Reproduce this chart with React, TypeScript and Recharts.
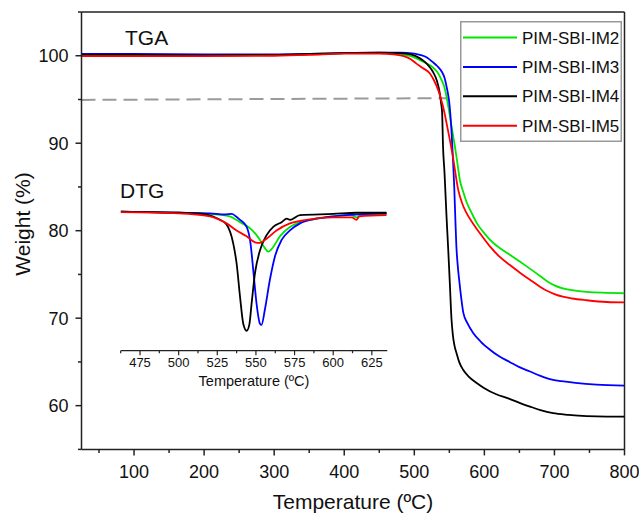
import { LineChart, Line, XAxis, YAxis, ReferenceLine, Legend } from 'recharts';

const FONT = "Arial, 'Liberation Sans', Helvetica, sans-serif";
const AXIS = '#222';

const seriesNames = ['PIM-SBI-IM2', 'PIM-SBI-IM3', 'PIM-SBI-IM4', 'PIM-SBI-IM5'];
const seriesColors = ['#00e600', '#0000ff', '#000000', '#ff0000'];

// TGA: weight (%) vs temperature (ºC)
const im2Temp = [25, 100, 200, 300, 350, 400, 450, 480, 495, 508, 518, 526, 533, 539, 543, 546, 549, 551, 554, 558, 561, 565, 570, 575, 582, 589, 600, 612, 625, 641, 660, 679, 690, 700, 712, 725, 746, 775, 800];
const im2Weight = [100.1, 100.1, 100.05, 100.1, 100.2, 100.3, 100.3, 100.2, 99.95, 99.5, 99.1, 98.7, 98.1, 97.2, 96.4, 95.3, 94.0, 93.0, 91.5, 89.6, 88.0, 85.8, 84.4, 83.2, 82.0, 80.9, 79.7, 78.65, 77.85, 77.0, 75.95, 74.85, 74.2, 73.75, 73.4, 73.2, 73.0, 72.9, 72.85];

const im3Temp = [25, 100, 200, 300, 350, 400, 450, 480, 500, 508, 518, 526, 533, 539, 543, 546, 548, 550, 553, 555, 557, 558.5, 560, 562, 564, 567, 570, 576, 584, 595, 608, 620, 636, 650, 665, 680, 695, 710, 730, 760, 800];
const im3Weight = [100.2, 100.2, 100.15, 100.15, 100.2, 100.3, 100.35, 100.35, 100.25, 100.1, 99.8, 99.3, 98.8, 98.2, 97.5, 96.5, 95.7, 94.6, 91.5, 88.5, 85.0, 81.5, 78.3, 76.0, 74.4, 72.3, 70.6, 69.4, 68.3, 67.3, 66.4, 65.7, 65.0, 64.4, 63.9, 63.4, 63.0, 62.8, 62.6, 62.4, 62.3];

const im4Temp = [25, 100, 200, 300, 350, 400, 450, 480, 495, 508, 515, 522, 527, 532, 536.4, 538, 539.7, 541, 543, 546, 548.5, 550.7, 553, 555, 557.5, 560.3, 564, 569.7, 578, 589, 600, 617, 635, 651, 665, 680, 698, 720, 746, 775, 800];
const im4Weight = [100.1, 100.1, 100.05, 100.1, 100.2, 100.3, 100.35, 100.3, 100.15, 99.7, 99.3, 98.7, 98.1, 97.2, 95.7, 94.7, 93.5, 89.6, 86.8, 81.6, 77.7, 74.0, 70.0, 68.1, 66.8, 66.0, 65.0, 64.1, 63.3, 62.6, 62.0, 61.3, 60.8, 60.3, 59.9, 59.5, 59.15, 58.95, 58.8, 58.75, 58.75];

const im5Temp = [25, 100, 200, 300, 350, 400, 450, 470, 485, 495, 503, 512, 522, 528, 534, 541, 548, 555, 562.6, 568, 574.6, 584, 593.6, 607, 622, 636, 650.7, 665, 679.3, 690, 700, 712, 725, 746, 775, 800];
const im5Weight = [99.95, 99.95, 99.95, 100.0, 100.1, 100.25, 100.25, 100.15, 99.95, 99.6, 99.1, 98.6, 98.0, 97.2, 96.1, 94.2, 91.5, 88.5, 84.7, 83.2, 82.0, 80.8, 79.7, 78.3, 77.0, 76.1, 75.2, 74.4, 73.6, 73.1, 72.75, 72.45, 72.25, 72.05, 71.85, 71.8];

// DTG inset (arbitrary units, baseline 0)
const im2DtgTemp = [462.5, 500, 520, 533, 539.7, 546.1, 550.4, 552.6, 555.8, 558, 561.2, 565.5, 572, 578.5, 589.3, 600, 612, 615, 618, 634.5];
const im2Dtg = [0.01, 0.0, -0.01, -0.03, -0.08, -0.13, -0.19, -0.23, -0.3, -0.33, -0.29, -0.2, -0.12, -0.08, -0.05, -0.03, -0.02, -0.04, -0.02, -0.01];

const im3DtgTemp = [462.5, 480, 500, 520.3, 530, 534.3, 537, 539.7, 544, 546.5, 548.3, 550.4, 552.6, 553.6, 555.8, 559, 562.3, 566.6, 572, 578.5, 589.3, 600, 634.5];
const im3Dtg = [0.01, 0.005, 0.0, -0.006, -0.015, -0.01, -0.03, -0.06, -0.12, -0.26, -0.49, -0.77, -0.94, -0.95, -0.82, -0.57, -0.37, -0.23, -0.15, -0.09, -0.05, -0.03, -0.006];

const im4DtgTemp = [462.5, 480, 500, 515, 522, 526.7, 531, 535.3, 537.5, 539.7, 541.8, 544, 545.7, 547.2, 549.4, 552.6, 556.9, 561.2, 566.6, 570, 572, 578.5, 600, 615, 634.5];
const im4Dtg = [0.01, 0.005, 0.0, -0.01, -0.03, -0.06, -0.1, -0.26, -0.43, -0.71, -0.94, -1.0, -0.95, -0.77, -0.51, -0.32, -0.19, -0.12, -0.08, -0.05, -0.06, -0.02, -0.01, 0.0, 0.0];

const im5DtgTemp = [462.5, 500, 520.3, 531, 537.5, 544, 549.4, 552.6, 556.9, 563.3, 572, 582.7, 600, 612, 615, 617, 634.5];
const im5Dtg = [0.005, -0.005, -0.03, -0.09, -0.15, -0.2, -0.25, -0.255, -0.22, -0.15, -0.09, -0.06, -0.04, -0.04, -0.06, -0.03, -0.02];

const mainXTicks = [50, 100, 150, 200, 250, 300, 350, 400, 450, 500, 550, 600, 650, 700, 750, 800];
const mainYTicks = [55, 60, 65, 70, 75, 80, 85, 90, 95, 100, 105];
const insetXTicks = [462.5, 475, 487.5, 500, 512.5, 525, 537.5, 550, 562.5, 575, 587.5, 600, 612.5, 625];

// 5% weight-loss guide line
const onsetStart = { x: 25, y: 94.95 };
const onsetEnd = { x: 547, y: 95.15 };

const zip = (t: number[], v: number[]) => t.map((x, i) => ({ t: x, v: v[i] }));

const tgaSeries = [zip(im2Temp, im2Weight), zip(im3Temp, im3Weight), zip(im4Temp, im4Weight), zip(im5Temp, im5Weight)];
const dtgSeries = [zip(im2DtgTemp, im2Dtg), zip(im3DtgTemp, im3Dtg), zip(im4DtgTemp, im4Dtg), zip(im5DtgTemp, im5Dtg)];

const MainXTick = ({ x, y, payload }: any) => {
  const major = payload.value % 100 === 0;
  return (
    <g>
      <line x1={x} x2={x} y1={y} y2={y + (major ? 6 : 3.5)} stroke={AXIS} strokeWidth={1.5} />
      {major && (
        <text x={x} y={y + 29} textAnchor="middle" fontSize={18} fontFamily={FONT} fill="#111">
          {payload.value}
        </text>
      )}
    </g>
  );
};

const MainYTick = ({ x, y, payload }: any) => {
  const major = payload.value % 10 === 0;
  return (
    <g>
      <line x1={x} x2={x - (major ? 6 : 3.5)} y1={y} y2={y} stroke={AXIS} strokeWidth={1.5} />
      {major && (
        <text x={x - 13} y={y + 6.4} textAnchor="end" fontSize={18} fontFamily={FONT} fill="#111">
          {payload.value}
        </text>
      )}
    </g>
  );
};

const InsetXTick = ({ x, y, payload }: any) => {
  const major = payload.value % 25 === 0;
  return (
    <g>
      <line x1={x} x2={x} y1={y} y2={y + (major ? 4.5 : 2.5)} stroke={AXIS} strokeWidth={1.2} />
      {major && (
        <text x={x} y={y + 16} textAnchor="middle" fontSize={13} fontFamily={FONT} fill="#111">
          {payload.value}
        </text>
      )}
    </g>
  );
};

const LegendBox = ({ payload }: any) => {
  const items = (payload && payload.length ? payload : seriesNames.map((n, i) => ({ value: n, color: seriesColors[i] })));
  return (
    <svg width={162} height={121} style={{ display: 'block' }}>
      <rect x={0.75} y={0.75} width={160.5} height={119.5} fill="#fff" stroke="#999" strokeWidth={1.5} />
      {items.map((it: any, i: number) => {
        const cy = 16.5 + i * 29.4;
        return (
          <g key={it.value}>
            <line x1={3} x2={57} y1={cy} y2={cy} stroke={it.color} strokeWidth={2} />
            <text x={62} y={cy + 6} fontSize={17} fontFamily={FONT} fill="#111">
              {it.value}
            </text>
          </g>
        );
      })}
    </svg>
  );
};

export default function App() {
  return (
    <div style={{ position: 'absolute', left: 0, top: 0, width: 639, height: 514, background: '#fff' }}>
      <LineChart width={639} height={514} margin={{ top: 12, right: 14.5, bottom: 34.6, left: 21.5 }}>
        <XAxis
          type="number"
          dataKey="t"
          domain={[25, 800]}
          ticks={mainXTicks}
          interval={0}
          allowDataOverflow
          tickSize={0}
          tickMargin={0}
          height={30}
          axisLine={{ stroke: AXIS, strokeWidth: 1.5 }}
          tickLine={false}
          tick={<MainXTick />}
        />
        <YAxis
          type="number"
          dataKey="v"
          domain={[55, 105]}
          ticks={mainYTicks}
          interval={0}
          allowDataOverflow
          tickSize={0}
          tickMargin={0}
          width={60}
          axisLine={{ stroke: AXIS, strokeWidth: 1.5 }}
          tickLine={false}
          tick={<MainYTick />}
        />
        <ReferenceLine y={105} stroke={AXIS} strokeWidth={1.5} />
        <ReferenceLine x={800} stroke={AXIS} strokeWidth={1.5} />
        <ReferenceLine segment={[onsetStart, onsetEnd]} stroke="#9a9a9a" strokeWidth={2} strokeDasharray="14 7" />
        {tgaSeries.map((d, i) => (
          <Line
            key={seriesNames[i]}
            data={d}
            dataKey="v"
            name={seriesNames[i]}
            type="monotone"
            stroke={seriesColors[i]}
            strokeWidth={1.8}
            dot={false}
            activeDot={false}
            isAnimationActive={false}
          />
        ))}
        <Legend
          layout="horizontal"
          align="center"
          verticalAlign="middle"
          content={<LegendBox />}
          wrapperStyle={{ position: 'absolute', left: 460, top: 21, width: 162, height: 121 }}
        />
      </LineChart>

      <div style={{ position: 'absolute', left: 100, top: 180 }}>
        <LineChart width={300} height={220} margin={{ top: 18, right: 12.7, bottom: 19.3, left: 20.7 }}>
          <XAxis
            type="number"
            dataKey="t"
            domain={[462.5, 635]}
            ticks={insetXTicks}
            interval={0}
            allowDataOverflow
            tickSize={0}
            tickMargin={0}
            height={30}
            axisLine={{ stroke: AXIS, strokeWidth: 1.2 }}
            tickLine={false}
            tick={<InsetXTick />}
          />
          <YAxis type="number" dataKey="v" domain={[-1.169, 0.125]} allowDataOverflow hide />
          {dtgSeries.map((d, i) => (
            <Line
              key={seriesNames[i]}
              data={d}
              dataKey="v"
              name={seriesNames[i]}
              type="monotone"
              stroke={seriesColors[i]}
              strokeWidth={1.8}
              dot={false}
              activeDot={false}
              isAnimationActive={false}
            />
          ))}
        </LineChart>
      </div>

      <svg width={639} height={514} style={{ position: 'absolute', left: 0, top: 0, pointerEvents: 'none' }}>
        <text x={125} y={45} fontSize={21} fontFamily={FONT} fill="#111">TGA</text>
        <text x={120} y={198} fontSize={21} fontFamily={FONT} fill="#111">DTG</text>
        <text x={254} y={386} textAnchor="middle" fontSize={14.5} fontFamily={FONT} fill="#111">Temperature (ºC)</text>
        <text x={353} y={509} textAnchor="middle" fontSize={21} fontFamily={FONT} fill="#111">Temperature (ºC)</text>
        <text x={30} y={224} textAnchor="middle" fontSize={21} fontFamily={FONT} fill="#111" transform="rotate(-90 30 224)">
          Weight (%)
        </text>
      </svg>
    </div>
  );
}
